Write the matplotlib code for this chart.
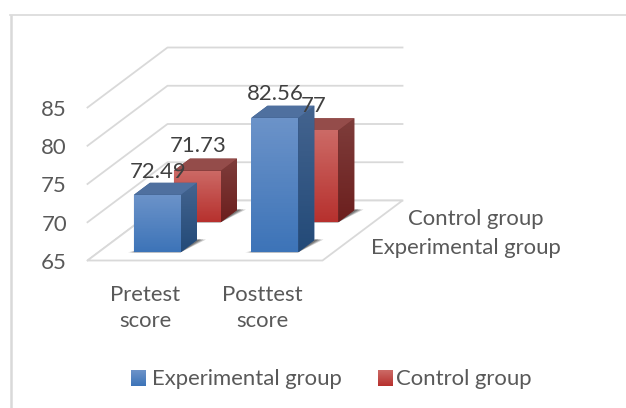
import numpy as np
import matplotlib
matplotlib.use("Agg")
import matplotlib.pyplot as plt
from matplotlib.patches import Polygon
from matplotlib.colors import LinearSegmentedColormap

categories = ["Pretest\nscore", "Posttest\nscore"]
series_names = ["Experimental group", "Control group"]
experimental = [72.49, 82.56]
control = [71.73, 77]
axis_ticks = [65, 70, 75, 80, 85]

plt.rcParams['font.family'] = ['Lato', 'DejaVu Sans']
TXT = "#595959"; LBL = "#404040"; GRID = "#d9d9d9"
FS = 15.9

fig = plt.figure(figsize=(6.26, 4.08), dpi=100)
ax = fig.add_axes([0, 0, 1, 1])
ax.set_axis_off()

# oblique projection: u along categories (0..1), d into depth (0..1), v value
def P(u, d, v):
    return (87.5 + 235 * u + 80 * d, 260.5 - 60 * d - (v - 65) * 7.65)

# chart frame: left and top edges only are visible
ax.plot([10.5, 10.5], [408, 14.5], color=GRID, lw=1.8, zorder=0.5, solid_capstyle="butt")
ax.plot([10, 626], [14.5, 14.5], color=GRID, lw=1.2, zorder=0.5)

# walls and floor
for t in axis_ticks:
    xs = [P(0, 0, t), P(0, 1, t), P(1.0, 1, t)]
    ax.plot(*zip(*xs), color=GRID, lw=1.3, zorder=1)
ax.add_patch(Polygon([P(0, 0, 65), P(1, 0, 65), P(1, 1, 65), P(0, 1, 65)],
                     fc="white", ec=GRID, lw=1.3, zorder=1.5))

def grad_face(pts, c_top, c_bot, z):
    pts = np.array(pts)
    cmap = LinearSegmentedColormap.from_list("g", [c_top, c_bot])
    ext = [pts[:, 0].min(), pts[:, 0].max(), pts[:, 1].max(), pts[:, 1].min()]
    im = ax.imshow(np.linspace(0, 1, 64)[:, None], cmap=cmap, extent=ext, aspect="auto",
                   zorder=z, interpolation="nearest", origin="upper")
    im.set_clip_path(Polygon(pts, transform=ax.transData))

def bar(u, d0, val, pal, z):
    w, dd = 0.1, 0.2
    l, r = u - w, u + w
    d1 = d0 + dd
    # soft floor shadow
    for grow, a in [(1.0, 0.25), (0.7, 0.35), (0.4, 0.45)]:
        ax.add_patch(Polygon([P(l - 0.025 * grow, d0 - 0.003, 65), P(r, d0 - 0.003, 65),
                              P(r + 0.035 * grow, d1 + 0.01, 65), P(r, d1 + 0.01, 65)],
                             fc="#444444", ec="none", alpha=a, zorder=z - 0.1))
    # solid underlay so no light seam shows between the faces
    ax.add_patch(Polygon([P(l, d0, 65), P(l, d0, val), P(l, d1, val), P(r, d1, val),
                          P(r, d1, 65), P(r, d0, 65)],
                         fc=pal[5], ec="none", zorder=z - 0.05))
    grad_face([P(r, d0, val), P(r, d1, val), P(r, d1, 65), P(r, d0, 65)], pal[2], pal[3], z + 0.1)
    grad_face([P(l, d0, val), P(r, d0, val), P(r, d0, 65), P(l, d0, 65)], pal[0], pal[1], z + 0.2)
    ax.add_patch(Polygon([P(l, d0, val), P(r, d0, val), P(r, d1, val), P(l, d1, val)],
                         fc=pal[4], ec="none", zorder=z + 0.1))

BLUE = ("#6c93c9", "#3d74b8", "#44648f", "#234a78", "#4f709f", "#34588a")
RED = ("#cc6a66", "#b7312e", "#7e3d3b", "#6c1f1e", "#944c4a", "#7a2c2b")
upos = [0.25, 0.75]
for i in range(2):
    bar(upos[i], 0.64, control[i], RED, 3 + i)
for i in range(2):
    bar(upos[i], 0.14, experimental[i], BLUE, 6 + i)

# tick labels
for t in axis_ticks:
    x, y = P(0, 0, t)
    ax.text(67, y + 2.5, str(t), ha="right", va="center", fontsize=FS, color=TXT, zorder=10)
ax.text(145, 308, categories[0], ha="center", va="center", fontsize=FS, color=TXT, linespacing=1.38)
ax.text(262, 308, categories[1], ha="center", va="center", fontsize=FS, color=TXT, linespacing=1.38)
ax.text(544, 219, series_names[1], ha="right", va="center", fontsize=FS, color=TXT)
ax.text(561, 248, series_names[0], ha="right", va="center", fontsize=FS, color=TXT)

# data labels
for xy, v in [((158, 171.5), experimental[0]), ((198, 146.5), control[0]),
              ((275, 94.5), experimental[1]), ((314, 106.5), control[1])]:
    ax.text(*xy, f"{v:g}", ha="center", va="center", fontsize=FS, color=LBL, zorder=12)

# legend
def swatch(x, pal):
    cmap = LinearSegmentedColormap.from_list("g", [pal[0], pal[1]])
    ax.imshow(np.linspace(0, 1, 32)[:, None], cmap=cmap, extent=[x, x + 14.5, 386, 370],
              aspect="auto", zorder=5, origin="upper")
swatch(131, BLUE); swatch(377.5, RED)
ax.text(152, 379, series_names[0], ha="left", va="center", fontsize=FS, color=TXT)
ax.text(396, 379, series_names[1], ha="left", va="center", fontsize=FS, color=TXT)

ax.set_xlim(0, 626)
ax.set_ylim(408, 0)
fig.savefig("out.png", dpi=100)
